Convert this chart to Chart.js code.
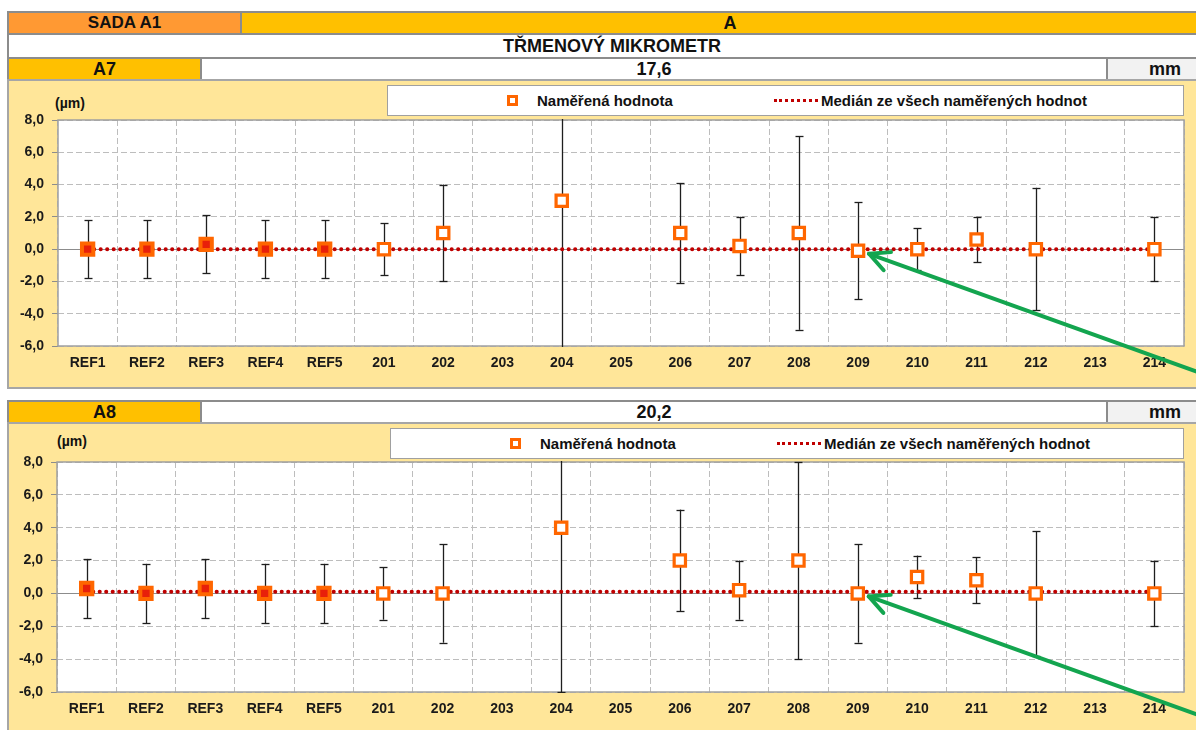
<!DOCTYPE html>
<html>
<head>
<meta charset="utf-8">
<script src="https://cdn.jsdelivr.net/npm/chart.js@4.4.0/dist/chart.umd.min.js"></script>
<style>
  body { margin: 0; width: 1196px; height: 730px; overflow: hidden; background: #fff; position: relative;
         font-family: 'Liberation Sans', Arial, sans-serif; color: #111; }
  .cell { position: absolute; box-sizing: border-box; border: 2px solid #8c8c8c; font-weight: bold; font-size: 18px;
          display: flex; align-items: center; justify-content: center; }
  .panel { position: absolute; box-sizing: border-box; border: 2px solid #a6a6a6; background: #FFE699; }
  .legend { position: absolute; box-sizing: border-box; border: 1px solid #a0a0a0; background: #fff; height: 31px; }
  .legend span { position: absolute; font-weight: bold; font-size: 15px; top: 6px; white-space: nowrap; }
  .legend .mark { width: 11px; height: 11px; box-sizing: border-box; border: 3px solid #FF6600; background: #fff; top: 9px; }
  .legend .dots { width: 44px; height: 0; border-top: 3px dotted #C00000; top: 13px; }
  .unit { position: absolute; font-weight: bold; font-size: 14px; }
  canvas { position: absolute; }
</style>
</head>
<body>
<!-- header -->
<div class="cell" style="left:7px;top:11px;width:235px;height:24px;background:#FF9933;font-size:17px;">SADA A1</div>
<div class="cell" style="left:240px;top:11px;width:980px;height:24px;background:#FFC000;">A</div>
<div class="cell" style="left:7px;top:33px;width:1210px;height:26px;background:#fff;">TŘMENOVÝ MIKROMETR</div>
<div class="cell" style="left:7px;top:57px;width:195px;height:24px;background:#FFC000;">A7</div>
<div class="cell" style="left:200px;top:57px;width:908px;height:24px;background:#fff;">17,6</div>
<div class="cell" style="left:1106px;top:57px;width:118px;height:24px;background:#F2F2F2;">mm</div>
<div class="panel" style="left:7px;top:79px;width:1215px;height:310px;"></div>

<div class="cell" style="left:7px;top:400px;width:195px;height:24px;background:#FFC000;">A8</div>
<div class="cell" style="left:200px;top:400px;width:908px;height:24px;background:#fff;">20,2</div>
<div class="cell" style="left:1106px;top:400px;width:118px;height:24px;background:#F2F2F2;">mm</div>
<div class="panel" style="left:7px;top:422px;width:1215px;height:330px;"></div>

<!-- legends -->
<div class="legend" style="left:387px;top:85px;width:797px;">
  <span class="mark" style="left:119px;"></span>
  <span style="left:149px;">Naměřená hodnota</span>
  <span class="dots" style="left:386px;"></span>
  <span style="left:433px;">Medián ze všech naměřených hodnot</span>
</div>
<div class="unit" style="left:55px;top:95px;">(µm)</div>

<div class="legend" style="left:390px;top:428px;width:794px;">
  <span class="mark" style="left:119px;"></span>
  <span style="left:149px;">Naměřená hodnota</span>
  <span class="dots" style="left:386px;"></span>
  <span style="left:433px;">Medián ze všech naměřených hodnot</span>
</div>
<div class="unit" style="left:57px;top:433px;">(µm)</div>

<canvas id="chartA7" width="1188" height="306" style="left:8px;top:81px;"></canvas>
<canvas id="chartA8" width="1188" height="306" style="left:8px;top:424px;"></canvas>

<script>
// -- DATA ---------------//
const labels = ['REF1', 'REF2', 'REF3', 'REF4', 'REF5', '201', '202', '203', '204', '205',
	'206', '207', '208', '209', '210', '211', '212', '213', '214'];

const valuesA7 = [0.0, 0.0, 0.3, 0.0, 0.0, 0.0, 1.0, null, 3.0, null, 1.0, 0.2, 1.0, -0.1, 0.0, 0.6, 0.0, null, 0.0];
const errorsA7 = [1.8, 1.8, 1.8, 1.8, 1.8, 1.6, 3.0, null, 10.0, null, 3.1, 1.8, 6.0, 3.0, 1.3, 1.4, 3.8, null, 2.0];
const medianA7 = 0.0;

const valuesA8 = [0.3, 0.0, 0.3, 0.0, 0.0, 0.0, 0.0, null, 4.0, null, 2.0, 0.2, 2.0, 0.0, 1.0, 0.8, 0.0, null, 0.0];
const errorsA8 = [1.8, 1.8, 1.8, 1.8, 1.8, 1.6, 3.0, null, 10.0, null, 3.1, 1.8, 6.0, 3.0, 1.3, 1.4, 3.8, null, 2.0];
const medianA8 = 0.1;

const yMin = -6;
const yMax = 8;
const yStep = 2;

Chart.defaults.font.family = "'Liberation Sans', Arial, sans-serif";
Chart.defaults.color = '#1a1a1a';

// -- PLUGINS ---------------//
// white plot area + grey frame
const plotFrame = {
	id: 'plotFrame',
	beforeDraw(chart) {
		const { ctx, chartArea: a } = chart;
		ctx.save();
		ctx.fillStyle = '#ffffff';
		ctx.fillRect(a.left, a.top, a.right - a.left, a.bottom - a.top);
		ctx.restore();
	},
	beforeDatasetsDraw(chart) {
		const { ctx, chartArea: a } = chart;
		ctx.save();
		ctx.strokeStyle = '#a0a0a0';
		ctx.lineWidth = 1.5;
		ctx.strokeRect(a.left, a.top, a.right - a.left, a.bottom - a.top);
		ctx.restore();
	}
};

// vertical error bars, drawn under the markers
const errorBars = {
	id: 'errorBars',
	beforeDatasetsDraw(chart, args, opts) {
		const { ctx, chartArea: a, scales: { x, y } } = chart;
		const vals = chart.data.datasets[0].data;
		const errs = opts.errors;
		ctx.save();
		ctx.beginPath();
		ctx.rect(a.left, a.top - 1, a.right - a.left, a.bottom - a.top + 2);
		ctx.clip();
		ctx.strokeStyle = '#1e1e1e';
		ctx.lineWidth = 1.3;
		vals.forEach((v, i) => {
			if (v == null || errs[i] == null) return;
			const px = Math.round(x.getPixelForValue(i)) + 0.5;
			const hi = v + errs[i];
			const lo = v - errs[i];
			ctx.beginPath();
			ctx.moveTo(px, y.getPixelForValue(hi));
			ctx.lineTo(px, y.getPixelForValue(lo));
			ctx.stroke();
			[hi, lo].forEach((e) => {
				if (e > y.max || e < y.min) return; // cap is outside the plot
				const py = Math.round(y.getPixelForValue(e)) + 0.5;
				ctx.beginPath();
				ctx.moveTo(px - 4, py);
				ctx.lineTo(px + 4, py);
				ctx.stroke();
			});
		});
		ctx.restore();
	}
};

// green arrow pointing at one sample
const pointerArrow = {
	id: 'pointerArrow',
	afterDraw(chart, args, opts) {
		if (!opts.label) return;
		const { ctx, scales: { x, y } } = chart;
		const i = labels.indexOf(opts.label);
		const v = chart.data.datasets[0].data[i];
		const tx = x.getPixelForValue(i) + 11;
		const ty = y.getPixelForValue(v) + 3;
		const slope = 0.36;
		const ex = chart.width;
		const ey = ty + (ex - tx) * slope;
		const ang = Math.atan(slope);
		ctx.save();
		ctx.strokeStyle = '#13A54F';
		ctx.lineWidth = 4;
		ctx.lineCap = 'round';
		ctx.lineJoin = 'round';
		ctx.beginPath();
		ctx.moveTo(ex, ey);
		ctx.lineTo(tx, ty);
		ctx.stroke();
		ctx.beginPath();
		ctx.moveTo(tx + 22 * Math.cos(ang - 0.42), ty + 22 * Math.sin(ang - 0.42));
		ctx.lineTo(tx, ty);
		ctx.lineTo(tx + 22 * Math.cos(ang + 0.5), ty + 22 * Math.sin(ang + 0.5));
		ctx.stroke();
		ctx.restore();
	}
};

// -- CHART FACTORY ---------------//
function makeChart(id, values, errors, median, layout) {
	const ctx = document.getElementById(id).getContext('2d');
	return new Chart(ctx, {
		type: 'line',
		data: {
			labels: labels,
			datasets: [
				{
					label: 'Naměřená hodnota',
					data: values,
					showLine: false,
					pointStyle: 'rect',
					pointRadius: 8,
					pointBorderWidth: (c) => labels[c.dataIndex].startsWith('REF') ? 4 : 3.2,
					pointBorderColor: '#FF6600',
					pointBackgroundColor: (c) => labels[c.dataIndex].startsWith('REF') ? '#E8200A' : '#ffffff', // REF points are filled
					order: 0,
				},
				{
					label: 'Medián ze všech naměřených hodnot',
					data: labels.map(() => median),
					borderColor: '#C00000',
					borderWidth: 4,
					borderDash: [0.1, 6.4],
					borderCapStyle: 'round',
					pointRadius: 0,
					fill: false,
					order: 1,
				},
			],
		},
		options: {
			responsive: false,
			maintainAspectRatio: false,
			animation: false,
			layout: {
				padding: { top: layout.top, right: layout.right, left: 0, bottom: 0 }
			},
			plugins: {
				legend: { display: false },
				tooltip: { enabled: false },
				errorBars: { errors: errors },
				pointerArrow: { label: '209' },
			},
			scales: {
				x: {
					offset: true,
					grid: {
						offset: true,
						color: '#bdbdbd',
						drawTicks: false,
					},
					border: { display: false, dash: [6, 3] },
					ticks: {
						padding: 9,
						autoSkip: false,
						maxRotation: 0,
						font: { size: 14, weight: 'bold' },
					},
					afterFit(s) { s.height = layout.xHeight; },
				},
				y: {
					min: yMin,
					max: yMax,
					grid: {
						color: (c) => c.tick && c.tick.value === 0 ? '#8c8c8c' : '#bdbdbd', // zero line is solid
						tickColor: '#8c8c8c',
						tickLength: 6,
					},
					border: {
						display: false,
						dash: (c) => c.tick && c.tick.value === 0 ? [] : [6, 3],
					},
					ticks: {
						stepSize: yStep,
						padding: 8,
						font: { size: 14, weight: 'bold' },
						callback: (v) => v.toFixed(1).replace('.', ','),
					},
					afterFit(s) { s.width = layout.yWidth; },
				},
			},
		},
		plugins: [plotFrame, errorBars, pointerArrow],
	});
}

const chartA7 = makeChart('chartA7', valuesA7, errorsA7, medianA7, { top: 39, right: 12, yWidth: 50, xHeight: 41 });
const chartA8 = makeChart('chartA8', valuesA8, errorsA8, medianA8, { top: 38, right: 8, yWidth: 49, xHeight: 38 });
</script>
</body>
</html>
